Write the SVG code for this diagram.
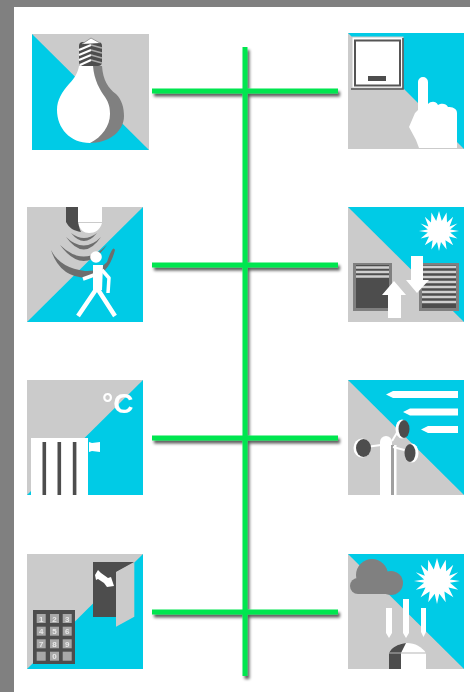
<svg xmlns="http://www.w3.org/2000/svg" width="470" height="692" viewBox="0 0 470 692">
<style>
.bg{fill:#cbcbcb}.cy{fill:#00cbe6}.w{fill:#fff}.d{fill:#4d4d4d}.g{fill:#808080}.wave{fill:#6e6e6e}
.ln{stroke:#00e64f;stroke-width:5;fill:none}
.key{fill:#a8a8a8}.dig{font:bold 8px "Liberation Sans",Arial,sans-serif;fill:#e8e8e8;text-anchor:middle}
.sl{stroke:#cfcfcf;stroke-width:2.6}
.ic{filter:url(#soft)}
</style>
<defs>
<filter id="soft" x="-5%" y="-5%" width="110%" height="110%"><feGaussianBlur stdDeviation="0.45"/></filter>
<filter id="sh" x="0" y="0" width="470" height="692" filterUnits="userSpaceOnUse"><feGaussianBlur in="SourceAlpha" stdDeviation="1.6"/><feOffset dx="2" dy="3"/><feComponentTransfer><feFuncA type="linear" slope="0.65"/></feComponentTransfer><feMerge><feMergeNode/><feMergeNode in="SourceGraphic"/></feMerge></filter>
<polygon id="sun" points="0,-1 .14,-.5 .38,-.92 .4,-.42 .71,-.71 .53,-.23 .92,-.38 .56,-.07 1,0 .56,.08 .92,.38 .5,.28 .71,.71 .32,.46 .38,.92 .1,.55 0,1 -.1,.55 -.38,.92 -.32,.46 -.71,.71 -.5,.28 -.92,.38 -.56,.08 -1,0 -.56,-.07 -.92,-.38 -.53,-.23 -.71,-.71 -.4,-.42 -.38,-.92 -.14,-.5"/>
</defs>
<rect width="470" height="692" fill="#808080"/>
<rect x="14" y="7" width="456" height="685" fill="#fff"/>
<g id="connectors" filter="url(#sh)">
<path class="ln" d="M245 47V676M152 91H338M152 265H338M152 438H338M152 612H338"/>
</g>
<g id="node-lamp" class="ic">
<rect class="bg" x="32" y="34" width="117" height="116"/>
<polygon class="cy" points="32,34 149,150 32,150"/>
<path class="g" d="M90 66H102C103 80 108 88 116 94C122 100 124 108 124 116C124 132 108 143 90 143Z"/>
<path class="w" d="M79 66H93C94 80 100 90 105 97C109 103 110 108 110 114C110 126 102 137 90 143C70 143 57 128 57 110C57 100 62 92 69 84C75 78 78 72 79 66Z"/>
<rect class="d" x="79" y="42" width="23" height="24" rx="4"/>
<path d="M82 44L91 38L100 43" fill="#fff" stroke="#999" stroke-width="1"/>
<g stroke="#fff" stroke-width="2" fill="none"><path d="M79 50L91 45M79 55L91 50M79 60L91 55M80 65L91 60"/></g>
<g stroke="#aaa" stroke-width="1.6" fill="none"><path d="M91 45L102 48M91 50L102 53M91 55L102 58M91 60L102 63"/></g>
</g>
<g id="node-touch" class="ic">
<rect class="bg" x="348" y="33" width="116" height="116"/>
<polygon class="cy" points="348,33 464,33 464,149"/>
<rect x="352" y="37" width="51" height="51" fill="#fff" stroke="#c8c8c8" stroke-width="1"/>
<path d="M403 38V89H351" fill="none" stroke="#555" stroke-width="1.6"/>
<rect x="355" y="40.500" width="45" height="45" fill="#fff" stroke="#555" stroke-width="2"/>
<rect class="d" x="368" y="76" width="18" height="5"/>
<path class="w" d="M418 82A5 5 0 0 1 428 82V104C431 101 436 101 438 105C441 103 446 103 448 107C452 107 457 108 457 113V148H419L416 140L409 127L415 113L418 110Z"/>
</g>
<g id="node-motion" class="ic">
<rect class="bg" x="27" y="207" width="116" height="115"/>
<polygon class="cy" points="143,207 143,322 27,322"/>
<rect class="d" x="66" y="207" width="12" height="15"/>
<rect class="w" x="78" y="207" width="24" height="15"/>
<path class="w" d="M78 223H102C100 230 95 233 89 233C84 233 80 230 78 223Z"/>
<path class="d" d="M66 222H78C79 227 80 230 81 232C74 231 69 228 66 222Z"/>
<path class="wave" d="M71 233Q84 249 97 233Q84 243 71 233Z"/>
<path class="wave" d="M66 237Q84 262 101 237Q84 254 66 237Z"/>
<path class="wave" d="M60 245Q84 277 107 245Q84 268 60 245Z"/>
<path class="wave" d="M51 250Q60 278 88 278Q108 277 115 250Q113 244 107 262Q98 272 85 271Q60 268 51 250Z"/>
<g fill="none" stroke="#fff" stroke-linejoin="round">
<path d="M97 288L78 316M97 288L115 316" stroke-width="4.500"/>
<path d="M83 279L94 275M102 270L109 278L108 293" stroke-width="3.500"/>
</g>
<polygon class="w" points="93,265 103,265 102,290 93,293"/>
<circle class="w" cx="96" cy="257" r="5.800"/>
</g>
<g id="node-blinds" class="ic">
<rect class="bg" x="348" y="207" width="116" height="115"/>
<polygon class="cy" points="348,207 464,207 464,322"/>
<use href="#sun" class="w" transform="translate(439 231) scale(20)"/>
<rect class="g" x="353" y="263" width="39" height="48"/>
<rect class="d" x="356" y="265" width="33" height="43"/>
<path class="sl" d="M356 267.500H389M356 272H389M356 276.500H389"/>
<rect class="g" x="419" y="263" width="40" height="48"/>
<rect class="d" x="422" y="265" width="34" height="43"/>
<path class="sl" d="M422 267H456M422 272H456M422 277H456M422 282H456M422 287H456M422 292H456M422 297H456M422 302H456" stroke-width="2.400"/>
<polygon class="w" points="394,281 406,295 401,295 401,318 388,318 388,295 382,295"/>
<polygon class="w" points="411,256 423,256 423,280 429,280 417,293 406,280 411,280"/>
</g>
<g id="node-heating" class="ic">
<rect class="bg" x="27" y="380" width="116" height="115"/>
<polygon class="cy" points="143,380 143,495 27,495"/>
<rect class="w" x="31" y="438" width="57" height="57"/>
<rect class="d" x="42.500" y="442" width="3.600" height="53"/>
<rect class="d" x="57.500" y="442" width="3.600" height="53"/>
<rect class="d" x="72.800" y="442" width="3.600" height="53"/>
<polygon class="w" points="89,442 92,443 100,442 100,452 92,451 89,452"/>
<text x="102" y="413" font-family="'Liberation Sans',Arial,sans-serif" font-weight="bold" font-size="28" fill="#fff">°C</text>
</g>
<g id="node-wind" class="ic">
<rect class="bg" x="348" y="380" width="116" height="115"/>
<polygon class="cy" points="348,380 464,380 464,495"/>
<polygon class="w" points="386,394.500 393,391 458,391 458,398 393,398"/>
<polygon class="w" points="403,412 410,408.500 458,408.500 458,415.500 410,415.500"/>
<polygon class="w" points="421,429.500 428,426 458,426 458,433 428,433"/>
<path class="w" d="M380 495V442A6 6 0 0 1 392 442V495Z"/>
<rect x="391" y="445" width="3" height="50" fill="#a0a0a0"/>
<rect class="w" x="394" y="445" width="2.500" height="50"/>
<g stroke="#fff" stroke-width="2" fill="none"><path d="M366 447L381 445M392 441L398 431M393 447L408 451"/></g>
<ellipse class="w" cx="362" cy="448" rx="8.500" ry="9.500"/>
<ellipse class="d" cx="363.500" cy="448" rx="7.500" ry="9"/>
<ellipse class="w" cx="402" cy="429" rx="6.500" ry="9.500"/>
<ellipse class="d" cx="404" cy="429" rx="5.500" ry="9"/>
<ellipse class="w" cx="412" cy="453" rx="6.500" ry="9.500"/>
<ellipse class="d" cx="410" cy="453" rx="5.500" ry="9"/>
</g>
<g id="node-access" class="ic">
<rect class="bg" x="27" y="554" width="116" height="115"/>
<polygon class="cy" points="143,554 143,669 27,669"/>
<polygon class="d" points="93,562 134,562 116,572 116,617 93,617"/>
<polygon class="bg" points="116,572.300 134.300,562.700 134.300,616.700 116,626.700"/>
<polygon class="w" points="95,575 98,570 101,573 108,578 111,577 114,586 107,587 104,583 98,579 96,580"/>
<rect class="d" x="33" y="610" width="42" height="54"/>
<g class="key">
<rect x="36.700" y="614" width="9" height="9"/><rect x="50" y="614" width="9" height="9"/><rect x="62.700" y="614" width="9" height="9"/>
<rect x="36.700" y="626.700" width="9" height="9"/><rect x="50" y="626.700" width="9" height="9"/><rect x="62.700" y="626.700" width="9" height="9"/>
<rect x="36.700" y="639.300" width="9" height="9"/><rect x="50" y="639.300" width="9" height="9"/><rect x="62.700" y="639.300" width="9" height="9"/>
<rect x="36.700" y="651.700" width="9" height="9"/><rect x="50" y="651.700" width="9" height="9"/><rect x="62.700" y="651.700" width="9" height="9"/>
</g>
<g class="dig">
<text x="41.200" y="621.500">1</text><text x="54.500" y="621.500">2</text><text x="67.200" y="621.500">3</text>
<text x="41.200" y="634.200">4</text><text x="54.500" y="634.200">5</text><text x="67.200" y="634.200">6</text>
<text x="41.200" y="646.800">7</text><text x="54.500" y="646.800">8</text><text x="67.200" y="646.800">9</text>
<text x="54.500" y="659.200">0</text>
</g>
</g>
<g id="node-weather" class="ic">
<rect class="bg" x="348" y="554" width="116" height="115"/>
<polygon class="cy" points="348,554 464,554 464,669"/>
<g class="g"><circle cx="372" cy="575" r="16"/><circle cx="391" cy="583" r="12"/><circle cx="358" cy="586" r="8"/><rect x="358" y="578" width="34" height="16"/></g>
<use href="#sun" class="w" transform="translate(437 581) scale(23)"/>
<polygon class="w" points="386,608 392,608 392,633 389,638 386,633"/>
<polygon class="w" points="403,599 409,599 409,633 406,638 403,633"/>
<polygon class="w" points="421,608 426,608 426,632 423.500,637 421,632"/>
<path class="w" d="M389 669V653C392 647 400 643 407 643C415 643 422 647 426 653V669Z"/>
<path class="d" d="M389 669V653C392 647 398 644 406 643L401 653V669Z"/>
<path d="M389 653H426" stroke="#b5b5b5" stroke-width="1"/>
</g>
</svg>
